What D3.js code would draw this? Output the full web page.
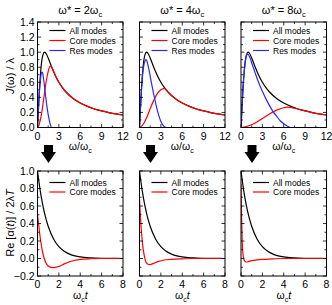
<!DOCTYPE html>
<html><head><meta charset="utf-8">
<script src="https://cdn.jsdelivr.net/npm/d3@7/dist/d3.min.js"></script>
<style>body{margin:0;background:#fff}svg{display:block}text{font-family:"Liberation Sans",Arial,sans-serif;fill:#000}</style>
</head><body><svg id="c" width="332" height="305"></svg>
<script>
// ---- data ----
const omegaStars = ["2", "4", "8"];
const omegaAll = [0,0.25,0.5,0.75,1,1.25,1.5,2,2.5,3,3.5,4,5,6,7,8,9,10,11,12];
const jAll = [0,0.471,0.8,0.96,1,0.976,0.923,0.8,0.69,0.6,0.528,0.471,0.385,0.324,0.28,0.246,0.22,0.198,0.18,0.166];

const omegaRes1 = [0,0.2,0.4,0.5,0.6,0.7,0.8,1.0,1.2,1.4,1.6,1.8,2.0,12];
const jRes1     = [0,0.37,0.62,0.7,0.735,0.73,0.68,0.53,0.37,0.23,0.12,0.04,0,0];
const omegaCore1 = [0,0.2,0.4,0.6,0.8,1.0,1.2,1.4,1.6,1.8,2.0,2.5,3,3.5,4,5,6,7,8,9,10,11,12];
const jCore1     = [0,0.03,0.1,0.2,0.33,0.47,0.6,0.7,0.78,0.815,0.8,0.69,0.6,0.528,0.471,0.385,0.324,0.28,0.246,0.22,0.198,0.18,0.166];

const omegaRes2 = [0,0.2,0.4,0.6,0.8,0.9,1.0,1.3,1.6,2.0,2.5,3.0,3.5,3.8,12];
const jRes2     = [0,0.37,0.66,0.82,0.89,0.9,0.89,0.78,0.63,0.44,0.23,0.08,0.01,0,0];
const omegaCore2 = [0,0.5,1.0,1.5,2.0,2.5,3.0,3.5,4.0,5,6,7,8,9,10,11,12];
const jCore2     = [0,0.04,0.13,0.25,0.36,0.45,0.5,0.52,0.47,0.385,0.324,0.28,0.246,0.22,0.198,0.18,0.166];

const omegaRes3 = [0,0.2,0.4,0.6,0.8,0.9,1.0,1.2,1.5,2,2.5,3,3.5,4,4.5,5,5.5,6,6.5,7,12];
const jRes3     = [0,0.38,0.68,0.87,0.96,0.975,0.97,0.94,0.86,0.72,0.59,0.48,0.38,0.29,0.21,0.15,0.09,0.05,0.02,0,0];
const omegaCore3 = [0,1,2,3,4,5,6,6.5,7,7.5,8,9,10,11,12];
const jCore3     = [0,0.02,0.06,0.12,0.18,0.23,0.262,0.27,0.265,0.256,0.246,0.22,0.198,0.18,0.166];

const tAll = [0,0.25,0.5,0.75,1,1.5,2,2.5,3,3.5,4,5,6,7,8];
const aAll = [1,0.779,0.607,0.472,0.368,0.223,0.135,0.082,0.05,0.03,0.018,0.007,0.0025,0.001,0];

const tCore1 = [0,0.1,0.2,0.3,0.5,0.75,1.0,1.5,2.0,2.5,3,3.5,4,5,6,8];
const aCore1 = [0.5,0.4,0.29,0.2,0.06,-0.04,-0.085,-0.105,-0.09,-0.062,-0.037,-0.02,-0.01,-0.003,0,0];
const tCore2 = [0,0.1,0.2,0.3,0.45,0.6,0.8,1.0,1.3,1.7,2.2,3,4,5,8];
const aCore2 = [0.68,0.45,0.28,0.15,0.03,-0.04,-0.066,-0.07,-0.056,-0.036,-0.02,-0.01,-0.004,0,0];
const tCore3 = [0,0.05,0.1,0.15,0.25,0.35,0.5,0.7,1.0,1.5,2,3,4,8];
const aCore3 = [0.85,0.5,0.25,0.1,0.0,-0.03,-0.04,-0.035,-0.025,-0.015,-0.01,-0.005,0,0];

const topXTicks = [0,3,6,9,12];
const topYTicks = [0,0.2,0.4,0.6,0.8,1.0,1.2,1.4];
const botXTicks = [0,2,4,6,8];
const botYTicks = [-0.2,0,0.2,0.4,0.6,0.8,1.0];

// ---- layout ----
const svg = d3.select("#c");
const lefts = [37.5, 139.5, 241];
const W = 85.5;
const top1 = 22, bot1 = 127.5, top2 = 171, bot2 = 276;
const RED = "#ff0000", BLUE = "#2a2aff", BLACK = "#000";

const topRes = [[omegaRes1,jRes1],[omegaRes2,jRes2],[omegaRes3,jRes3]];
const topCore = [[omegaCore1,jCore1],[omegaCore2,jCore2],[omegaCore3,jCore3]];
const botCore = [[tCore1,aCore1],[tCore2,aCore2],[tCore3,aCore3]];

function zip(xs, ys){ return xs.map((x,i)=>[x,ys[i]]); }

function frame(g, x, y, majorX, minorX, majorY, minorY, showY, fmtY, labY){
  const x0 = x.range()[0], x1 = x.range()[1], y0 = y.range()[0], y1 = y.range()[1];
  const L = 3.5, l = 2;
  const tk = g.append("g").attr("stroke","#000").attr("stroke-width",0.8);
  minorX.forEach(v=>{ const px=x(v); const len = majorX.includes(v)?L:l;
    tk.append("line").attr("x1",px).attr("x2",px).attr("y1",y0).attr("y2",y0-len);
    tk.append("line").attr("x1",px).attr("x2",px).attr("y1",y1).attr("y2",y1+len);});
  minorY.forEach(v=>{ const py=y(v); const len = majorY.some(m=>Math.abs(m-v)<1e-9)?L:l;
    tk.append("line").attr("y1",py).attr("y2",py).attr("x1",x0).attr("x2",x0+len);
    tk.append("line").attr("y1",py).attr("y2",py).attr("x1",x1).attr("x2",x1-len);});
  g.append("rect").attr("x",x0).attr("y",y1).attr("width",x1-x0).attr("height",y0-y1)
    .attr("fill","none").attr("stroke","#000").attr("stroke-width",1);
  majorX.forEach(v=>{ g.append("text").attr("x",x(v)).attr("y",labY).attr("text-anchor","middle")
     .attr("font-size",10.5).text(v); });
  if(showY) majorY.forEach(v=>{ g.append("text").attr("x",x0-3).attr("y",y(v)+3.7).attr("text-anchor","end")
     .attr("font-size",10.5).text(fmtY(v)); });
}

function legend(g, x0, yRows, items){
  items.forEach((it,i)=>{
    g.append("line").attr("x1",x0+12).attr("x2",x0+28).attr("y1",yRows[i]).attr("y2",yRows[i])
      .attr("stroke",it[1]).attr("stroke-width",1.2);
    g.append("text").attr("x",x0+32).attr("y",yRows[i]+3.2).attr("font-size",8.5).text(it[0]);
  });
}

const fmt1 = d3.format(".1f");

for(let p=0;p<3;p++){
  const g = svg.append("g");
  const x = d3.scaleLinear().domain([0,12]).range([lefts[p], lefts[p]+W]);
  const y = d3.scaleLinear().domain([0,1.4]).range([bot1, top1]);
  const line = d3.line().x(d=>x(d[0])).y(d=>y(d[1])).curve(d3.curveMonotoneX);
  const clip = "clipT"+p;
  g.append("clipPath").attr("id",clip).append("rect").attr("x",lefts[p]).attr("y",top1).attr("width",W).attr("height",bot1-top1+1);
  const cg = g.append("g").attr("clip-path","url(#"+clip+")");
  cg.append("path").attr("d",line(zip(omegaAll,jAll))).attr("fill","none").attr("stroke",BLACK).attr("stroke-width",1.2);
  cg.append("path").attr("d",line(zip(topCore[p][0],topCore[p][1]))).attr("fill","none").attr("stroke",RED).attr("stroke-width",1.2);
  cg.append("path").attr("d",line(zip(topRes[p][0],topRes[p][1]))).attr("fill","none").attr("stroke",BLUE).attr("stroke-width",1.2);
  frame(g, x, y, topXTicks, d3.range(0,12.01,1.5), topYTicks, d3.range(0,1.401,0.1), p===0, fmt1, 139.5);
  legend(g, lefts[p], [30.5,40.5,50.5], [["All modes",BLACK],["Core modes",RED],["Res modes",BLUE]]);
  // title
  const t = g.append("text").attr("x",lefts[p]+W/2).attr("y",14).attr("text-anchor","middle").attr("font-size",11);
  t.append("tspan").text("ω* = "+omegaStars[p]+"ω");
  t.append("tspan").attr("font-size",7.5).attr("dy",2.5).text("c");
  // x label
  const xl = g.append("text").attr("x",lefts[p]+W/2).attr("y",150).attr("text-anchor","middle").attr("font-size",10.5);
  xl.append("tspan").text("ω/ω");
  xl.append("tspan").attr("font-size",7).attr("dy",2.5).text("c");
  // arrow
  const ax = lefts[p]+11;
  g.append("path").attr("d",`M${ax-4.5},145 L${ax+4.5},145 L${ax+4.5},152 L${ax+7.5},152 L${ax},163 L${ax-7.5},152 L${ax-4.5},152 Z`).attr("fill","#000");

  // bottom panels
  const gb = svg.append("g");
  const xb = d3.scaleLinear().domain([0,8]).range([lefts[p], lefts[p]+W]);
  const yb = d3.scaleLinear().domain([-0.2,1.0]).range([bot2, top2]);
  const lineb = d3.line().x(d=>xb(d[0])).y(d=>yb(d[1])).curve(d3.curveMonotoneX);
  const clipb = "clipB"+p;
  gb.append("clipPath").attr("id",clipb).append("rect").attr("x",lefts[p]).attr("y",top2).attr("width",W).attr("height",bot2-top2);
  const cb = gb.append("g").attr("clip-path","url(#"+clipb+")");
  cb.append("path").attr("d",lineb(zip(tAll,aAll))).attr("fill","none").attr("stroke",BLACK).attr("stroke-width",1.2);
  cb.append("path").attr("d",lineb(zip(botCore[p][0],botCore[p][1]))).attr("fill","none").attr("stroke",RED).attr("stroke-width",1.2);
  frame(gb, xb, yb, botXTicks, d3.range(0,8.01,1), botYTicks, d3.range(-0.2,1.001,0.1).map(v=>Math.round(v*10)/10), p===0, fmt1, 287.5);
  legend(gb, lefts[p], [182.5,192], [["All modes",BLACK],["Core modes",RED]]);
  const xl2 = gb.append("text").attr("x",lefts[p]+W/2).attr("y",299).attr("text-anchor","middle").attr("font-size",10.5);
  xl2.append("tspan").text("ω");
  xl2.append("tspan").attr("font-size",7).attr("dy",2.5).text("c");
  xl2.append("tspan").attr("dy",-2.5).attr("font-style","italic").text("t");
}

// y labels
const yl1 = svg.append("text").attr("transform","translate(14,76) rotate(-90)").attr("text-anchor","middle").attr("font-size",11);
yl1.append("tspan").attr("font-style","italic").text("J");
yl1.append("tspan").text("(ω) / λ");
const yl2 = svg.append("text").attr("transform","translate(14,223) rotate(-90)").attr("text-anchor","middle").attr("font-size",11);
yl2.append("tspan").text("Re [α(");
yl2.append("tspan").attr("font-style","italic").text("t");
yl2.append("tspan").text(")] / 2λ");
yl2.append("tspan").attr("font-style","italic").text("T");
</script></body></html>
